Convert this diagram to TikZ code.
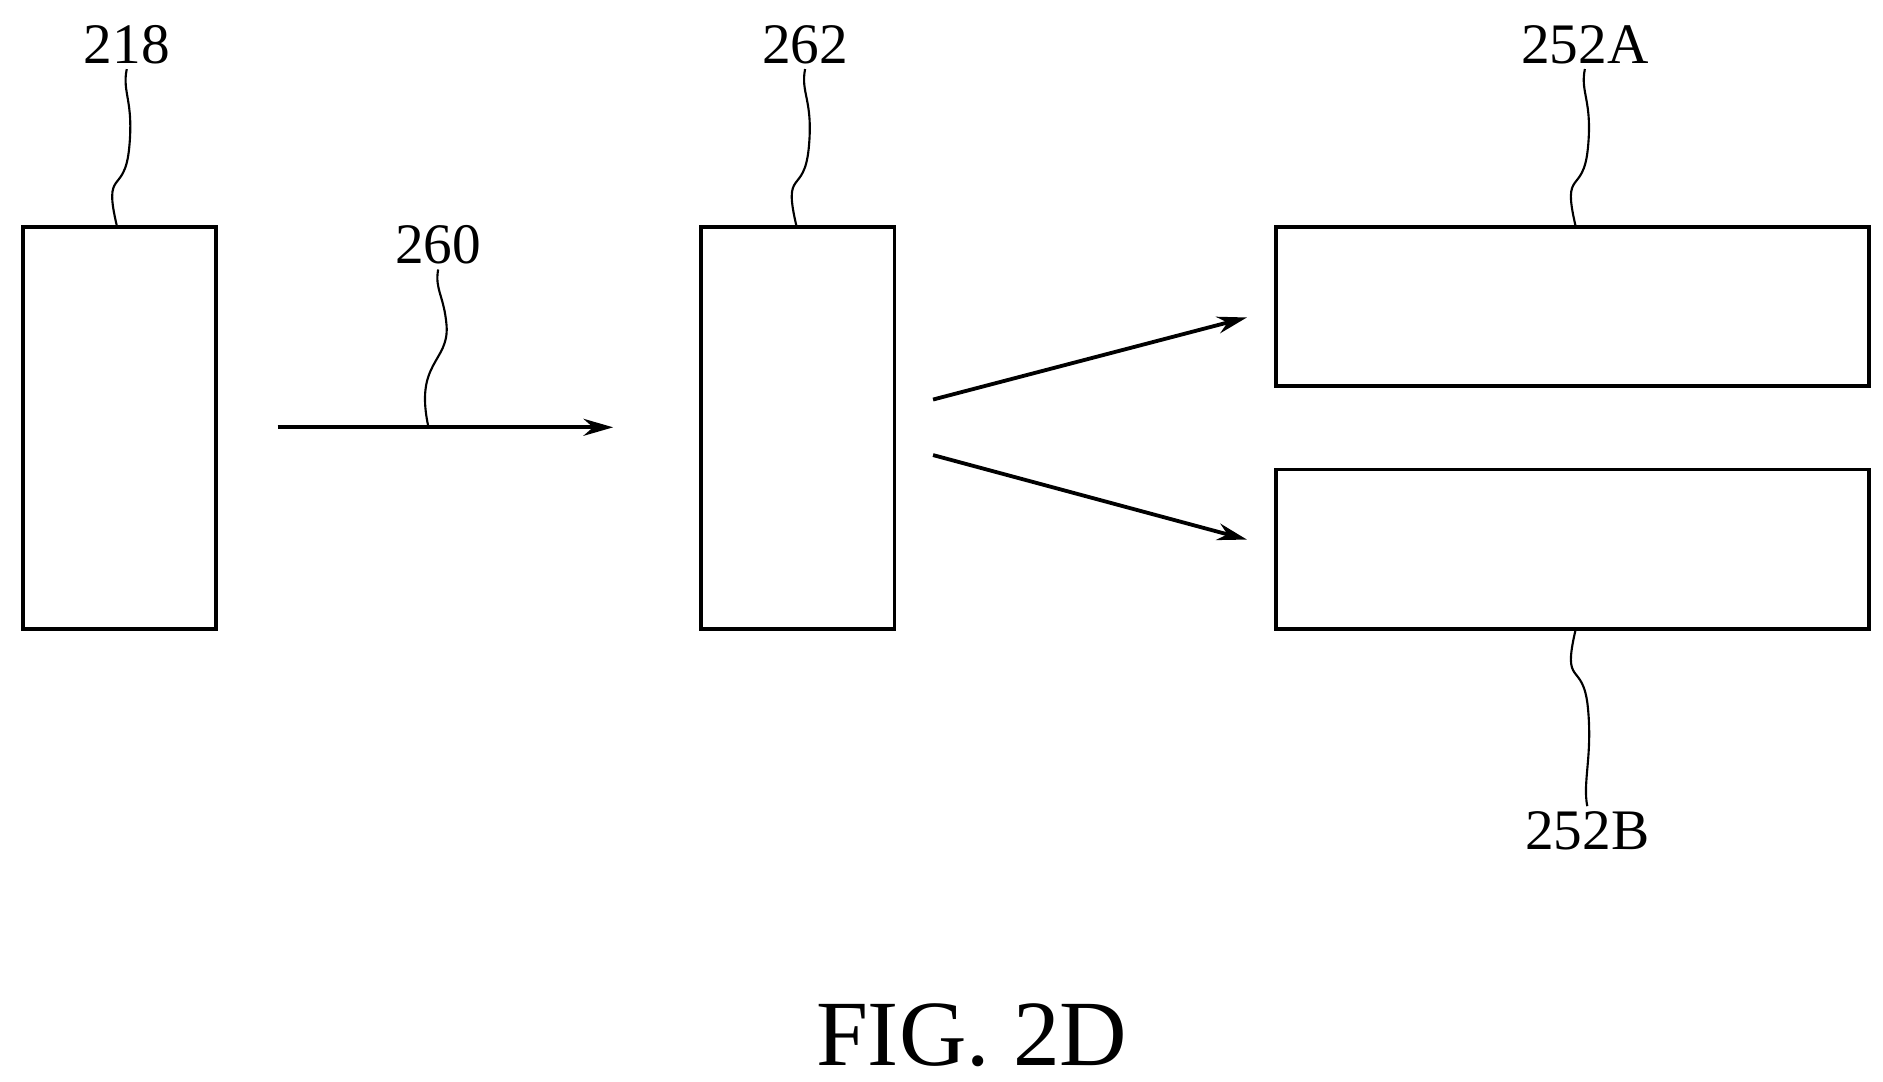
\documentclass[tikz,border=0pt]{standalone}
\usepackage{fontspec}
\setmainfont{Liberation Serif}
\usetikzlibrary{arrows.meta}
\tikzset{
  part/.style={draw=black, line width=0.9pt, inner sep=0pt, outer sep=0pt, minimum width=1.6cm},
  refnum/.style={font=\fontsize{13.5}{16}\selectfont, inner sep=1pt},
  leader/.style={line width=0.5pt},
  flow/.style={line width=0.9pt, -{Stealth[length=7pt, width=4pt]}}
}
\begin{document}
\begin{tikzpicture}[x=0.01cm, y=-0.01cm]
\useasboundingbox (0,0) rectangle (1560,896);

% parts
\node[part, minimum height=3.33cm] (sensor) at (99,354.5) {};
\node[part, minimum height=3.33cm] (filter) at (661,354.5) {};
\node[part, minimum width=4.91cm, minimum height=1.32cm] (outA) at (1302.5,254) {};
\node[part, minimum width=4.91cm, minimum height=1.32cm] (outB) at (1302.5,455) {};

% beams
\coordinate (beamS) at (230,354);
\coordinate (beamE) at (508,354);
\draw[flow] (beamS) -- (beamE);
\coordinate (splitA) at (773,331);
\coordinate (splitB) at (773,377);
\draw[flow] (splitA) -- (1033,263);
\draw[flow] (splitB) -- (1033,447);

% reference numerals
\node[refnum] (n218) at (105,37) {218};
\node[refnum] (n260) at (363,203) {260};
\node[refnum] (n262) at (667,37) {262};
\node[refnum] (n252A) at (1313,37) {252A};
\node[refnum] (n252B) at (1315,688) {252B};

% leaders
\draw[leader] (sensor.north) ++(-2,0) .. controls +(-12,-50) and +(-4,40) .. ++(10,-65) .. controls +(4,-40) and +(-4,20) .. (n218.south);
\draw[leader] (355,354) .. controls (343,300) and (372,300) .. (370,270) .. controls (368,245) and (360,240) .. (n260.south);
\draw[leader] (filter.north) ++(-1,0) .. controls +(-12,-50) and +(-4,40) .. ++(10,-65) .. controls +(4,-40) and +(-4,20) .. (n262.south);
\draw[leader] (outA.north) ++(3,0) .. controls +(-12,-50) and +(-4,40) .. ++(10,-65) .. controls +(4,-40) and +(-4,20) .. (n252A.south);
\draw[leader] (outB.south) ++(3,0) .. controls +(-12,50) and +(-4,-40) .. ++(10,65) .. controls +(4,40) and +(-4,-20) .. (n252B.north);

\node[font=\fontsize{22}{26}\selectfont] (caption) at (805,858) {FIG. 2D};
\end{tikzpicture}
\end{document}
